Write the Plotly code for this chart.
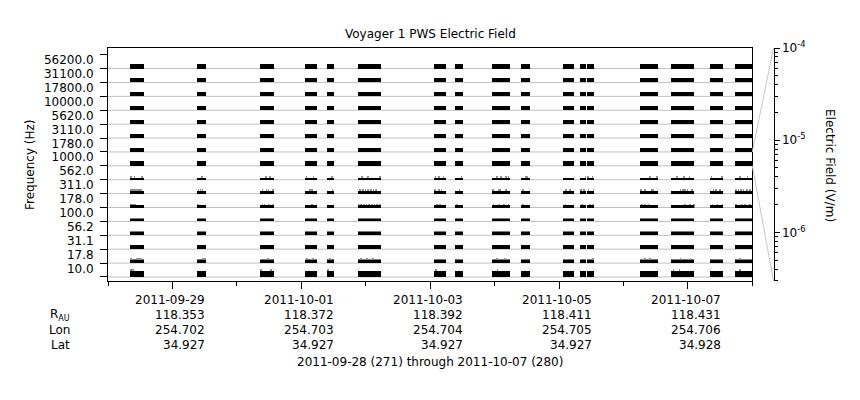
import plotly.graph_objects as go
import pandas as pd
import numpy as np

# ---------------- data ----------------
FREQ_LABELS = ['10.0', '17.8', '31.1', '56.2', '100.0', '178.0', '311.0', '562.0',
               '1000.0', '1780.0', '3110.0', '5620.0', '10000.0', '17800.0', '31100.0', '56200.0']

# data segments (fractional day of year 2011; 271 = 2011-09-28)
SEG_START_DOY = [271.346, 272.386, 273.363, 274.061, 274.403, 274.873, 276.063, 276.389, 276.963,
                 277.413, 278.065, 278.328, 278.437, 279.259, 279.740, 280.345, 280.733]
SEG_END_DOY = [271.563, 272.525, 273.580, 274.248, 274.511, 275.241, 276.249, 276.508, 277.237,
               277.552, 278.235, 278.421, 278.541, 279.534, 280.097, 280.547, 281.000]

# noise floor (V/m) per channel, low to high frequency
FLOOR_VM = [3.2e-6, 1.25e-6, 1.6e-6, 1.07e-6, 7.6e-7, 7.1e-7, 9.0e-7, 6.7e-7,
            1.9e-6, 1.85e-6, 1.85e-6, 1.85e-6, 1.85e-6, 1.85e-6, 1.85e-6, 1.85e-6]
# upper level of the fluctuating floor (V/m)
TOP_VM = [3.2e-6, 1.8e-6, 1.6e-6, 1.6e-6, 1.13e-6, 1.0e-6, 9.0e-7, 6.7e-7,
          1.9e-6, 1.85e-6, 1.85e-6, 1.85e-6, 1.85e-6, 1.85e-6, 1.85e-6, 1.85e-6]

# impulsive spikes per channel (day of year) and typical amplitude (V/m)
SPIKE_DOY = {
    0: [271.362, 271.393, 273.370, 273.529, 274.418, 276.089, 277.045, 279.776, 279.869, 280.811],
    1: [271.362, 271.455, 271.486, 271.517, 272.479, 272.510, 273.487, 274.093, 274.186, 274.449,
        274.930, 275.023, 275.116, 277.041, 277.165, 278.525, 279.337, 279.414, 279.886, 280.041, 280.811],
    5: [271.362, 271.393, 271.424, 272.401, 273.399, 273.430, 273.492, 273.554, 274.170, 274.888,
        274.930, 274.972, 275.012, 275.054, 275.096, 275.137, 275.178, 275.220, 276.105, 276.156,
        276.415, 276.983, 277.076, 277.149, 277.216, 277.439, 278.100, 278.355, 278.483, 278.519,
        279.285, 279.337, 279.388, 279.953, 280.030, 280.093, 280.381, 280.459, 280.537, 280.749,
        280.837, 280.888, 280.966],
    6: [271.362, 271.393, 271.424, 271.455, 271.486, 271.517, 272.406, 272.437, 272.468, 273.399,
        273.461, 273.492, 273.565, 274.139, 274.170, 274.485, 274.915, 274.957, 274.997, 275.039,
        275.081, 275.121, 275.163, 276.078, 276.136, 276.176, 276.455, 276.974, 277.060, 277.087,
        277.175, 277.439, 278.106, 278.173, 278.339, 278.386, 278.457, 278.534, 279.275, 279.337,
        279.441, 279.466, 279.886, 279.922, 279.957, 279.993, 280.061, 280.396, 280.438, 280.500,
        280.749, 280.784, 280.822, 280.862, 280.915, 280.966],
    7: [271.357, 271.413, 271.532, 272.458, 273.452, 273.514, 274.081, 274.190, 274.476, 274.941,
        275.034, 275.220, 276.083, 276.140, 276.207, 276.486, 277.040, 277.098, 277.175, 277.216,
        277.480, 277.501, 278.410, 278.452, 278.519, 279.414, 279.518, 279.829, 279.942, 280.024,
        280.366, 280.527, 280.811, 280.924],
}
SPIKE_VM = {0: 8.7e-6, 1: 2.15e-6, 5: 1.52e-6, 6: 2.41e-6, 7: 1.7e-6}

# ephemeris rows under the time axis
TICK_DATES = ['2011-09-29', '2011-10-01', '2011-10-03', '2011-10-05', '2011-10-07']
R_AU = ['118.353', '118.372', '118.392', '118.411', '118.431']
LON = ['254.702', '254.703', '254.704', '254.705', '254.706']
LAT = ['34.927', '34.927', '34.927', '34.927', '34.928']

E_RANGE = [2.97e-7, 1e-4]   # electric-field scale of every channel strip

# ---------------- helpers ----------------
LOG_LO, LOG_HI = np.log10(E_RANGE[0]), np.log10(E_RANGE[1])


def frac(e):
    return (np.log10(e) - LOG_LO) / (LOG_HI - LOG_LO)


T0 = pd.Timestamp('2011-01-01')


def doy_dt(d):
    return T0 + pd.to_timedelta(d - 1, unit='D')


DAY_MS = 86400000.0
FONT = dict(family='DejaVu Sans', size=12, color='black')

# layout geometry (page pixels; the page body adds an 8px offset)
OFF = 8
FIG_W, FIG_H = 860 - OFF, 400 - OFF
PX_LEFT, PX_RIGHT, PX_TOP, PX_BOT = 108, 752.3, 48, 281
L = PX_LEFT - OFF
T = PX_TOP - OFF
B = FIG_H - (PX_BOT - OFF)
R = 80
W = FIG_W - L - R
H = FIG_H - T - B
XDOM = (PX_RIGHT - PX_LEFT) / W
Y2POS = (773.5 - PX_LEFT) / W
Y_LO, Y_HI = -0.29, 16.48


def xp(px):
    return (px - PX_LEFT) / W


def yp(px):
    return (PX_BOT - px) / H


# ---------------- traces ----------------
fig = go.Figure()


def seg_bar(levels, color):
    xs, ws, bs, hs = [], [], [], []
    for ch in range(16):
        for s, e in zip(SEG_START_DOY, SEG_END_DOY):
            xs.append(doy_dt(s))
            ws.append((e - s) * DAY_MS)
            bs.append(ch)
            hs.append(frac(levels[ch]))
    return go.Bar(x=xs, y=hs, base=bs, width=ws, offset=0,
                  marker=dict(color=color, line=dict(width=0)),
                  hoverinfo='skip', showlegend=False)


fig.add_trace(seg_bar(TOP_VM, '#7a7a7a'))

sx, sb, sh = [], [], []
for ch, times in SPIKE_DOY.items():
    for d in times:
        sx.append(doy_dt(d))
        sb.append(ch)
        sh.append(frac(SPIKE_VM[ch]))
SPW = 0.012 * DAY_MS
fig.add_trace(go.Bar(x=sx, y=sh, base=sb, width=SPW, offset=-SPW / 2,
                     marker=dict(color='#909090', line=dict(width=0)),
                     hoverinfo='skip', showlegend=False))

fig.add_trace(seg_bar(FLOOR_VM, 'black'))

# the 1000 Hz floor on the electric-field scale (invisible; keeps the right axis alive)
ZOOM_CH = FREQ_LABELS.index('1000.0')
fig.add_trace(go.Scatter(x=[doy_dt(SEG_START_DOY[0])], y=[FLOOR_VM[ZOOM_CH]], yaxis='y2',
                         mode='markers', marker=dict(size=1, opacity=0),
                         hoverinfo='skip', showlegend=False))

# ---------------- shapes ----------------
shapes = []
for i in range(16):
    shapes.append(dict(type='line', xref='paper', yref='y', x0=0, x1=XDOM, y0=i, y1=i,
                       line=dict(color='#c0c0c0', width=1), layer='below'))
shapes.append(dict(type='line', xref='paper', yref='y', x0=XDOM, x1=Y2POS,
                   y0=ZOOM_CH + 1, y1=Y_HI, line=dict(color='#c8c8c8', width=1)))
shapes.append(dict(type='line', xref='paper', yref='y', x0=XDOM, x1=Y2POS,
                   y0=ZOOM_CH, y1=Y_LO, line=dict(color='#c8c8c8', width=1)))

# ---------------- annotations ----------------
ann = []
ann.append(dict(text='Voyager 1 PWS Electric Field', xref='paper', yref='paper',
                x=xp(430), y=yp(34), xanchor='center', yanchor='middle', showarrow=False, font=FONT))
ann.append(dict(text='Frequency (Hz)', xref='paper', yref='paper', x=xp(30), y=yp(165),
                textangle=-90, xanchor='center', yanchor='middle', showarrow=False, font=FONT))
ann.append(dict(text='Electric Field (V/m)', xref='paper', yref='paper', x=xp(830), y=yp(165),
                textangle=90, xanchor='center', yanchor='middle', showarrow=False, font=FONT))

rows = [TICK_DATES, R_AU, LON, LAT]
row_y = [300, 315, 330, 345]
for vals, ypx in zip(rows, row_y):
    for d, v in zip(TICK_DATES, vals):
        ann.append(dict(text=v, xref='x', yref='paper', x=d, y=yp(ypx), xanchor='right',
                        xshift=35, yanchor='middle', showarrow=False, font=FONT))
for lab, ypx in zip(['R<sub><span style="font-size:8px">AU</span></sub>', 'Lon', 'Lat'], row_y[1:]):
    ann.append(dict(text=lab, xref='paper', yref='paper', x=xp(72), y=yp(ypx), xanchor='right',
                    yanchor='middle', showarrow=False, font=FONT))
ann.append(dict(text='2011-09-28 (271) through 2011-10-07 (280)', xref='paper', yref='paper',
                x=xp(430), y=yp(361.5), xanchor='center', yanchor='middle', showarrow=False, font=FONT))

# ---------------- layout ----------------
fig.update_layout(
    width=FIG_W, height=FIG_H,
    margin=dict(l=L, r=R, t=T, b=B, pad=0, autoexpand=False),
    paper_bgcolor='white', plot_bgcolor='white',
    barmode='overlay', bargap=0, hovermode=False,
    font=FONT, showlegend=False,
    shapes=shapes, annotations=ann,
    xaxis=dict(type='date', domain=[0, XDOM], range=['2011-09-28', '2011-10-08'],
               showgrid=False, zeroline=False, showline=True, mirror=True,
               linecolor='black', linewidth=1,
               tickmode='linear', tick0='2011-09-29', dtick=2 * DAY_MS,
               ticks='outside', ticklen=7, tickcolor='black', showticklabels=False,
               minor=dict(tickmode='linear', tick0='2011-09-28', dtick=DAY_MS,
                          ticks='outside', ticklen=4, tickcolor='black', showgrid=False)),
    yaxis=dict(range=[Y_LO, Y_HI], showgrid=False, zeroline=False, showline=True, mirror=True,
               linecolor='black', linewidth=1,
               tickmode='array', tickvals=[i + 0.62 for i in range(16)], ticktext=FREQ_LABELS,
               ticks='outside', ticklen=11, tickcolor='rgba(0,0,0,0)', tickfont=FONT,
               minor=dict(tickmode='array', tickvals=list(range(17)), ticks='outside',
                          ticklen=7, tickcolor='black', showgrid=False)),
    yaxis2=dict(type='log', overlaying='y', anchor='free', position=Y2POS, side='right',
                range=[LOG_LO, LOG_HI], showgrid=False, zeroline=False, showline=True,
                linecolor='black', linewidth=1,
                tickmode='array', tickvals=[1e-6, 1e-5, 1e-4],
                ticktext=['10<sup>-6</sup>', '10<sup>-5</sup>', '10<sup>-4</sup>'],
                ticks='outside', ticklen=5, tickcolor='black', tickfont=FONT,
                minor=dict(tickmode='array',
                           tickvals=[m * 10.0 ** p for p in (-7, -6, -5) for m in range(2, 10)
                                     if E_RANGE[0] <= m * 10.0 ** p <= E_RANGE[1]],
                           ticks='outside', ticklen=3, tickcolor='black', showgrid=False)),
)

fig.write_html('out.html', config={'displayModeBar': False})
